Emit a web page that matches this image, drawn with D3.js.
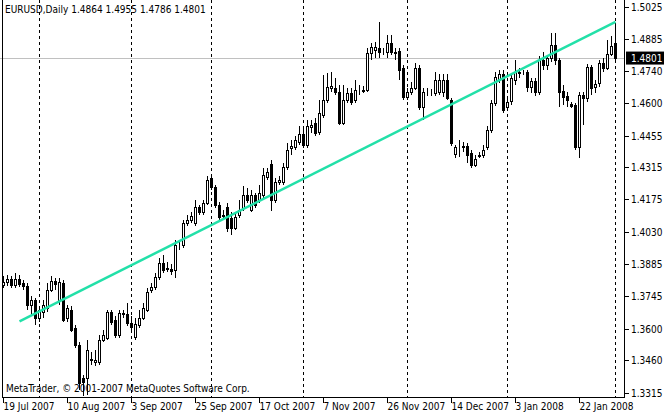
<!DOCTYPE html>
<html><head><meta charset="utf-8">
<script src="https://cdn.jsdelivr.net/npm/d3@7"></script>
<style>body{margin:0;background:#fff}svg{display:block}text{font-family:"DejaVu Sans Condensed","DejaVu Sans",sans-serif;font-stretch:condensed;font-size:10px}</style>
</head><body><svg id="c" width="667" height="416"></svg>
<script>
const opens=[1.3793,1.3807,1.3820,1.3793,1.3820,1.3802,1.3789,1.3705,1.3727,1.3647,1.3674,1.3692,1.3771,1.3811,1.3727,1.3802,1.3647,1.3683,1.3603,1.3528,1.3381,1.3381,1.3461,1.3452,1.3452,1.3550,1.3559,1.3674,1.3638,1.3572,1.3665,1.3665,1.3625,1.3563,1.3616,1.3647,1.3683,1.3771,1.3785,1.3829,1.3891,1.3869,1.3864,1.3860,1.3966,1.3971,1.4068,1.4081,1.4068,1.4139,1.4117,1.4157,1.4267,1.4228,1.4148,1.4104,1.4139,1.4090,1.4046,1.4104,1.4135,1.4192,1.4126,1.4192,1.4170,1.4192,1.4272,1.4329,1.4170,1.4250,1.4250,1.4316,1.4400,1.4405,1.4427,1.4462,1.4414,1.4493,1.4511,1.4471,1.4547,1.4613,1.4666,1.4666,1.4648,1.4511,1.4613,1.4644,1.4613,1.4657,1.4657,1.4657,1.4821,1.4835,1.4843,1.4826,1.4826,1.4866,1.4821,1.4830,1.4755,1.4626,1.4648,1.4666,1.4755,1.4582,1.4644,1.4644,1.4644,1.4648,1.4648,1.4702,1.4613,1.4374,1.4405,1.4409,1.4409,1.4378,1.4325,1.4369,1.4369,1.4405,1.4480,1.4600,1.4702,1.4728,1.4582,1.4609,1.4702,1.4733,1.4737,1.4737,1.4671,1.4697,1.4648,1.4790,1.4768,1.4799,1.4857,1.4790,1.4653,1.4631,1.4595,1.4591,1.4405,1.4635,1.4622,1.4759,1.4671,1.4688,1.4777,1.4755,1.4817,1.4864];
const highs=[1.3833,1.3838,1.3833,1.3847,1.3838,1.3816,1.3802,1.3745,1.3736,1.3700,1.3727,1.3802,1.3833,1.3824,1.3824,1.3816,1.3705,1.3700,1.3616,1.3541,1.3395,1.3550,1.3497,1.3506,1.3572,1.3594,1.3683,1.3683,1.3656,1.3683,1.3683,1.3714,1.3656,1.3647,1.3683,1.3714,1.3780,1.3802,1.3847,1.3913,1.3926,1.3895,1.3886,1.3993,1.3993,1.4081,1.4104,1.4117,1.4170,1.4148,1.4170,1.4276,1.4281,1.4236,1.4161,1.4126,1.4157,1.4117,1.4108,1.4170,1.4232,1.4223,1.4214,1.4201,1.4236,1.4312,1.4312,1.4347,1.4267,1.4276,1.4334,1.4422,1.4436,1.4454,1.4498,1.4489,1.4524,1.4524,1.4533,1.4613,1.4724,1.4733,1.4737,1.4711,1.4679,1.4679,1.4666,1.4666,1.4702,1.4679,1.4675,1.4843,1.4866,1.4870,1.4959,1.4843,1.4901,1.4901,1.4843,1.4843,1.4768,1.4666,1.4693,1.4777,1.4768,1.4666,1.4666,1.4662,1.4737,1.4728,1.4728,1.4728,1.4622,1.4414,1.4436,1.4427,1.4422,1.4391,1.4369,1.4383,1.4414,1.4498,1.4613,1.4737,1.4746,1.4746,1.4622,1.4728,1.4790,1.4755,1.4746,1.4746,1.4711,1.4711,1.4808,1.4826,1.4812,1.4910,1.4910,1.4799,1.4679,1.4648,1.4604,1.4600,1.4648,1.4648,1.4772,1.4768,1.4702,1.4790,1.4799,1.4879,1.4897,1.4955];
const lows=[1.3780,1.3789,1.3780,1.3780,1.3785,1.3771,1.3683,1.3661,1.3616,1.3630,1.3647,1.3674,1.3762,1.3771,1.3705,1.3630,1.3630,1.3585,1.3514,1.3328,1.3302,1.3306,1.3439,1.3435,1.3439,1.3541,1.3550,1.3616,1.3559,1.3559,1.3647,1.3612,1.3594,1.3550,1.3603,1.3638,1.3674,1.3758,1.3771,1.3816,1.3847,1.3851,1.3838,1.3824,1.3949,1.3957,1.4055,1.4068,1.4055,1.4104,1.4104,1.4148,1.4214,1.4135,1.4081,1.4090,1.4028,1.4015,1.4037,1.4090,1.4121,1.4157,1.4117,1.4135,1.4157,1.4179,1.4259,1.4121,1.4157,1.4236,1.4236,1.4303,1.4369,1.4391,1.4414,1.4400,1.4400,1.4467,1.4454,1.4458,1.4533,1.4600,1.4648,1.4635,1.4502,1.4502,1.4600,1.4591,1.4600,1.4635,1.4644,1.4648,1.4790,1.4799,1.4799,1.4812,1.4799,1.4812,1.4790,1.4702,1.4613,1.4613,1.4635,1.4657,1.4569,1.4524,1.4631,1.4631,1.4631,1.4635,1.4626,1.4613,1.4409,1.4356,1.4361,1.4383,1.4334,1.4312,1.4316,1.4356,1.4356,1.4391,1.4467,1.4586,1.4688,1.4555,1.4569,1.4591,1.4679,1.4711,1.4724,1.4648,1.4644,1.4631,1.4635,1.4746,1.4746,1.4781,1.4768,1.4582,1.4591,1.4582,1.4578,1.4391,1.4356,1.4502,1.4604,1.4635,1.4644,1.4671,1.4737,1.4746,1.4808,1.4786];
const closes=[1.3807,1.3820,1.3793,1.3820,1.3798,1.3789,1.3705,1.3727,1.3647,1.3683,1.3705,1.3771,1.3811,1.3798,1.3807,1.3638,1.3692,1.3594,1.3528,1.3359,1.3364,1.3506,1.3465,1.3461,1.3550,1.3572,1.3674,1.3630,1.3572,1.3669,1.3669,1.3625,1.3607,1.3621,1.3647,1.3692,1.3762,1.3785,1.3829,1.3891,1.3860,1.3866,1.3856,1.3971,1.3968,1.4068,1.4081,1.4099,1.4139,1.4117,1.4157,1.4259,1.4228,1.4148,1.4095,1.4101,1.4046,1.4046,1.4095,1.4126,1.4192,1.4170,1.4192,1.4148,1.4201,1.4281,1.4294,1.4170,1.4250,1.4259,1.4316,1.4391,1.4409,1.4436,1.4462,1.4414,1.4498,1.4502,1.4467,1.4555,1.4613,1.4671,1.4673,1.4648,1.4511,1.4613,1.4644,1.4604,1.4657,1.4659,1.4655,1.4821,1.4848,1.4848,1.4826,1.4824,1.4866,1.4826,1.4824,1.4746,1.4626,1.4648,1.4666,1.4755,1.4582,1.4648,1.4646,1.4642,1.4702,1.4702,1.4702,1.4622,1.4422,1.4405,1.4403,1.4407,1.4369,1.4325,1.4352,1.4367,1.4391,1.4480,1.4600,1.4715,1.4728,1.4569,1.4604,1.4711,1.4737,1.4735,1.4739,1.4671,1.4697,1.4648,1.4790,1.4768,1.4799,1.4857,1.4790,1.4648,1.4626,1.4613,1.4586,1.4405,1.4635,1.4622,1.4759,1.4666,1.4684,1.4777,1.4755,1.4817,1.4852,1.4801];
const priceTicks=[1.5025,1.4885,1.4740,1.4600,1.4455,1.4315,1.4175,1.4030,1.3885,1.3745,1.3600,1.3460,1.3315];
const dateLabels=[[0,"19 Jul 2007"],[16,"10 Aug 2007"],[32,"3 Sep 2007"],[48,"25 Sep 2007"],[64,"17 Oct 2007"],[80,"7 Nov 2007"],[96,"26 Nov 2007"],[112,"14 Dec 2007"],[128,"3 Jan 2008"],[144,"22 Jan 2008"]];
const separators=[9,32,52,75,101,126,153];
const trendBars=[4,153], trendPrices=[1.3632,1.4959];
const lastPrice=1.4801;
const title="EURUSD,Daily 1.4864 1.4955 1.4786 1.4801";
const footer="MetaTrader, © 2001-2007 MetaQuotes Software Corp.";

const svg=d3.select("#c");
const x=d3.scaleLinear().domain([0,153]).range([3.5,615.5]);
const y=d3.scaleLinear().domain([1.3315,1.5025]).range([393,7]);
const R=624.5,B=397.5;
const g=svg.append("g").attr("shape-rendering","crispEdges");
g.selectAll(".sep").data(separators).join("line").attr("x1",d=>x(d)).attr("x2",d=>x(d)).attr("y1",0).attr("y2",B)
 .attr("stroke","#000").attr("stroke-dasharray","3,3");
g.append("line").attr("x1",0).attr("x2",R).attr("y1",Math.round(y(lastPrice))+0.5).attr("y2",Math.round(y(lastPrice))+0.5).attr("stroke","#c0c0c0");
const idx=d3.range(closes.length);
g.selectAll(".w").data(idx).join("line").attr("x1",i=>x(i)).attr("x2",i=>x(i))
 .attr("y1",i=>Math.round(y(highs[i]))).attr("y2",i=>Math.round(y(lows[i]))).attr("stroke","#000");
g.selectAll(".b").data(idx).join("rect")
 .attr("x",i=>x(i)-1.5).attr("width",2)
 .attr("y",i=>Math.round(y(Math.max(opens[i],closes[i])))+0.5)
 .attr("height",i=>Math.max(0,Math.round(y(Math.min(opens[i],closes[i])))-Math.round(y(Math.max(opens[i],closes[i])))))
 .attr("fill",i=>closes[i]>=opens[i]?"#fff":"#000").attr("stroke","#000");
svg.append("line").attr("x1",x(trendBars[0])).attr("y1",y(trendPrices[0])).attr("x2",x(trendBars[1])).attr("y2",y(trendPrices[1]))
 .attr("stroke","#22e0a8").attr("stroke-width",2.5);
g.append("line").attr("x1",2.5).attr("x2",2.5).attr("y1",0).attr("y2",B).attr("stroke","#000");
g.append("line").attr("x1",R).attr("x2",R).attr("y1",0).attr("y2",B).attr("stroke","#000");
g.append("line").attr("x1",2.5).attr("x2",R).attr("y1",B).attr("y2",B).attr("stroke","#000");
const ya=svg.append("g");
ya.selectAll("line").data(priceTicks).join("line").attr("shape-rendering","crispEdges").attr("x1",R).attr("x2",R+4)
 .attr("y1",d=>Math.round(y(d))+0.5).attr("y2",d=>Math.round(y(d))+0.5).attr("stroke","#000");
ya.selectAll("text").data(priceTicks).join("text").attr("x",631).attr("y",d=>y(d)+4).text(d=>d.toFixed(4));
svg.append("rect").attr("x",626).attr("y",y(lastPrice)-6).attr("width",38).attr("height",13).attr("fill","#000");
svg.append("text").attr("x",631).attr("y",y(lastPrice)+4).attr("fill","#fff").text(lastPrice.toFixed(4));
const xa=svg.append("g");
xa.selectAll("line").data(dateLabels).join("line").attr("shape-rendering","crispEdges").attr("x1",d=>x(d[0])).attr("x2",d=>x(d[0]))
 .attr("y1",B).attr("y2",B+5).attr("stroke","#000");
xa.selectAll("text").data(dateLabels).join("text").attr("x",d=>x(d[0])).attr("y",410).text(d=>d[1]);
svg.append("text").attr("x",5).attr("y",13).text(title);
svg.append("text").attr("x",6).attr("y",392).text(footer);
</script></body></html>
